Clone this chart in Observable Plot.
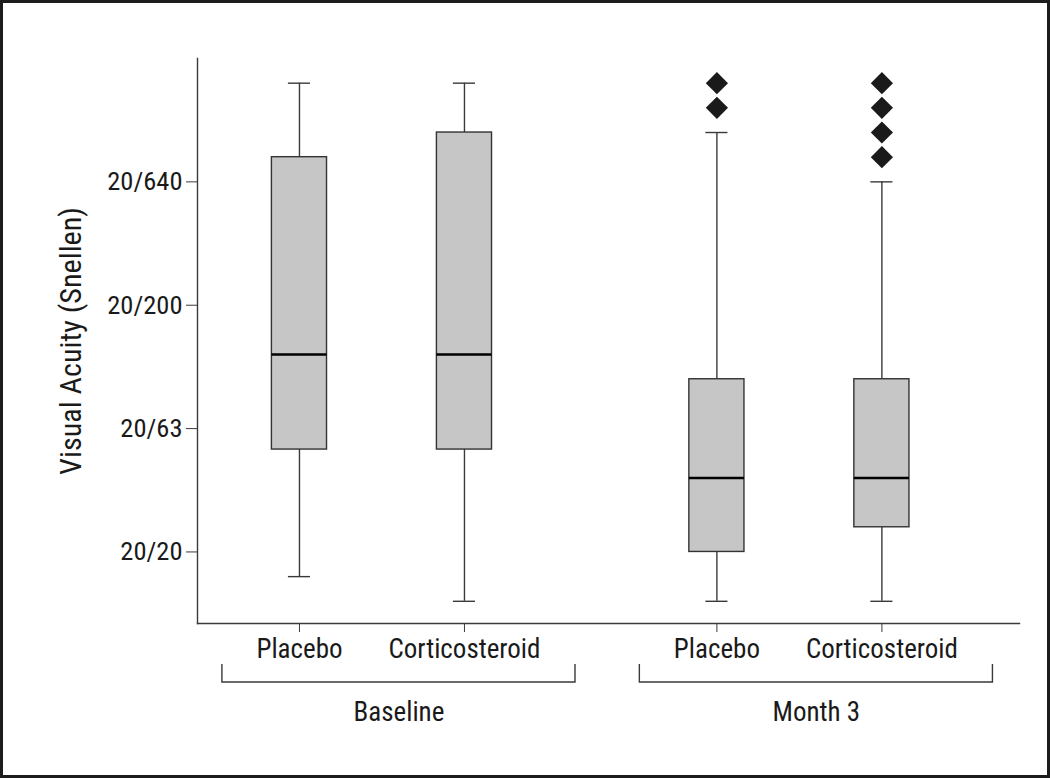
<!DOCTYPE html>
<html>
<head>
<meta charset="utf-8">
<script src="https://cdn.jsdelivr.net/npm/d3@7"></script>
<script src="https://cdn.jsdelivr.net/npm/@observablehq/plot@0.6"></script>
<style>
  html, body { margin: 0; padding: 0; background: #fff; }
  #wrap { position: relative; width: 1050px; height: 778px; overflow: hidden; }
  #border { position: absolute; left: 0; top: 0; width: 1050px; height: 778px; box-sizing: border-box; border: 3px solid #1c1c1c; pointer-events: none; }
  svg { display: block; }
</style>
</head>
<body>
<div id="wrap"><div id="border"></div></div>
<script>
// ---- data (logMAR values; Snellen tick labels) ----
const groups = ["Baseline", "Baseline", "Month 3", "Month 3"];
const treatments = ["Placebo", "Corticosteroid", "Placebo", "Corticosteroid"];
const whiskerLow = [-0.1, -0.2, -0.2, -0.2];
const q1 = [0.415, 0.415, 0.0, 0.1];
const median = [0.8, 0.8, 0.3, 0.3];
const q3 = [1.6, 1.7, 0.7, 0.7];
const whiskerHigh = [1.9, 1.9, 1.7, 1.5];

const outlierGroups = ["Month 3", "Month 3", "Month 3", "Month 3", "Month 3", "Month 3"];
const outlierTreatments = ["Placebo", "Placebo", "Corticosteroid", "Corticosteroid", "Corticosteroid", "Corticosteroid"];
const outlierValues = [1.9, 1.8, 1.9, 1.8, 1.7, 1.6];

const yTickValues = [0, 0.5, 1.0, 1.5];
const yTickLabels = ["20/20", "20/63", "20/200", "20/640"];
const groupNames = ["Baseline", "Month 3"];
const treatmentNames = ["Placebo", "Corticosteroid"];
const yTitle = "Visual Acuity (Snellen)";

// ---- layout helpers ----
const groupStep = 2.53;
const pos = (g, t) => groupNames.indexOf(g) * groupStep + treatmentNames.indexOf(t);
const boxHalf = 0.167, capHalf = 0.067;
const bracketLeft = 0.467, bracketRight = 0.673;

const boxes = groups.map((g, i) => ({
  group: g, treatment: treatments[i], x: pos(g, treatments[i]),
  lo: whiskerLow[i], q1: q1[i], med: median[i], q3: q3[i], hi: whiskerHigh[i]
}));
const outliers = outlierValues.map((v, i) => ({x: pos(outlierGroups[i], outlierTreatments[i]), v}));

const xTicks = [];
const xTickLabel = new Map();
groupNames.forEach(g => treatmentNames.forEach(t => { const p = pos(g, t); xTicks.push(p); xTickLabel.set(p, t); }));

const font = "'Roboto Condensed', 'DejaVu Sans Condensed', sans-serif";
const ink = "#3a3a3a";
const textColor = "#1a1a1a";
const fs = 27;

const bracketMark = (index, scales, values, dimensions) => {
  const g = d3.create("svg:g").attr("fill", "none").attr("stroke", ink).attr("stroke-width", 1.4);
  const yb = dimensions.height - dimensions.marginBottom;
  groupNames.forEach(name => {
    const x0 = scales.x(pos(name, treatmentNames[0]) - bracketLeft);
    const x1 = scales.x(pos(name, treatmentNames[treatmentNames.length - 1]) + bracketRight);
    g.append("path").attr("d", `M${x0},${yb + 41}V${yb + 59}H${x1}V${yb + 41}`);
  });
  return g.node();
};

const chart = Plot.plot({
  width: 1050,
  height: 778,
  marginLeft: 197,
  marginRight: 31,
  marginTop: 58,
  marginBottom: 155,
  style: {fontFamily: font, fontSize: fs + "px", color: textColor, background: "transparent"},
  x: {type: "linear", domain: [-0.618, 4.364]},
  y: {domain: [-0.29, 2.0]},
  marks: [
    Plot.frame({anchor: "left", stroke: ink, strokeWidth: 1.4}),
    Plot.frame({anchor: "bottom", stroke: ink, strokeWidth: 1.4}),
    Plot.axisY({ticks: yTickValues, tickFormat: () => "", tickSize: 11, label: null, stroke: ink}),
    Plot.text(yTickValues, {y: d => d, frameAnchor: "left", dx: -15, text: d => yTickLabels[yTickValues.indexOf(d)], textAnchor: "end", lineAnchor: "middle", fontSize: 26.5, fill: textColor}),
    Plot.axisX({ticks: xTicks, tickFormat: d => xTickLabel.get(d), tickSize: 9, tickPadding: 6, label: null, stroke: ink, fontSize: fs}),
    // whiskers
    Plot.ruleX(boxes, {x: "x", y1: "q3", y2: "hi", stroke: ink, strokeWidth: 1.4}),
    Plot.ruleX(boxes, {x: "x", y1: "lo", y2: "q1", stroke: ink, strokeWidth: 1.4}),
    Plot.ruleY(boxes, {y: "hi", x1: d => d.x - capHalf, x2: d => d.x + capHalf, stroke: ink, strokeWidth: 1.4}),
    Plot.ruleY(boxes, {y: "lo", x1: d => d.x - capHalf, x2: d => d.x + capHalf, stroke: ink, strokeWidth: 1.4}),
    // boxes
    Plot.rect(boxes, {x1: d => d.x - boxHalf, x2: d => d.x + boxHalf, y1: "q1", y2: "q3", fill: "#c6c6c6", stroke: "#333", strokeWidth: 1.4}),
    Plot.ruleY(boxes, {y: "med", x1: d => d.x - boxHalf, x2: d => d.x + boxHalf, stroke: "#000", strokeWidth: 2.6}),
    // outliers
    Plot.dot(outliers, {x: "x", y: "v", symbol: "diamond2", r: 10, fill: "#1a1a1a", stroke: "none"}),
    // y title
    Plot.text([yTitle], {frameAnchor: "left", text: d => d, rotate: -90, dx: -126, textAnchor: "middle", lineAnchor: "middle", fontSize: 28, fill: textColor, className: "ytitle"}),
    // brackets + group labels
    bracketMark,
    Plot.text(groupNames, {x: g => (pos(g, treatmentNames[0]) - bracketLeft + pos(g, treatmentNames[1]) + bracketRight) / 2, frameAnchor: "bottom", dy: 89, text: d => d, textAnchor: "middle", lineAnchor: "middle", fontSize: fs, fill: textColor})
  ]
});
document.getElementById("wrap").prepend(chart);
// fit the axis title to the reference length (about 268px)
const titleText = chart.querySelector(".ytitle text");
if (titleText) {
  const len = titleText.getComputedTextLength();
  if (len > 0) {
    const size = Math.max(24, Math.min(31, 28 * 268 / len));
    titleText.setAttribute("font-size", size);
  }
}
</script>
</body>
</html>
